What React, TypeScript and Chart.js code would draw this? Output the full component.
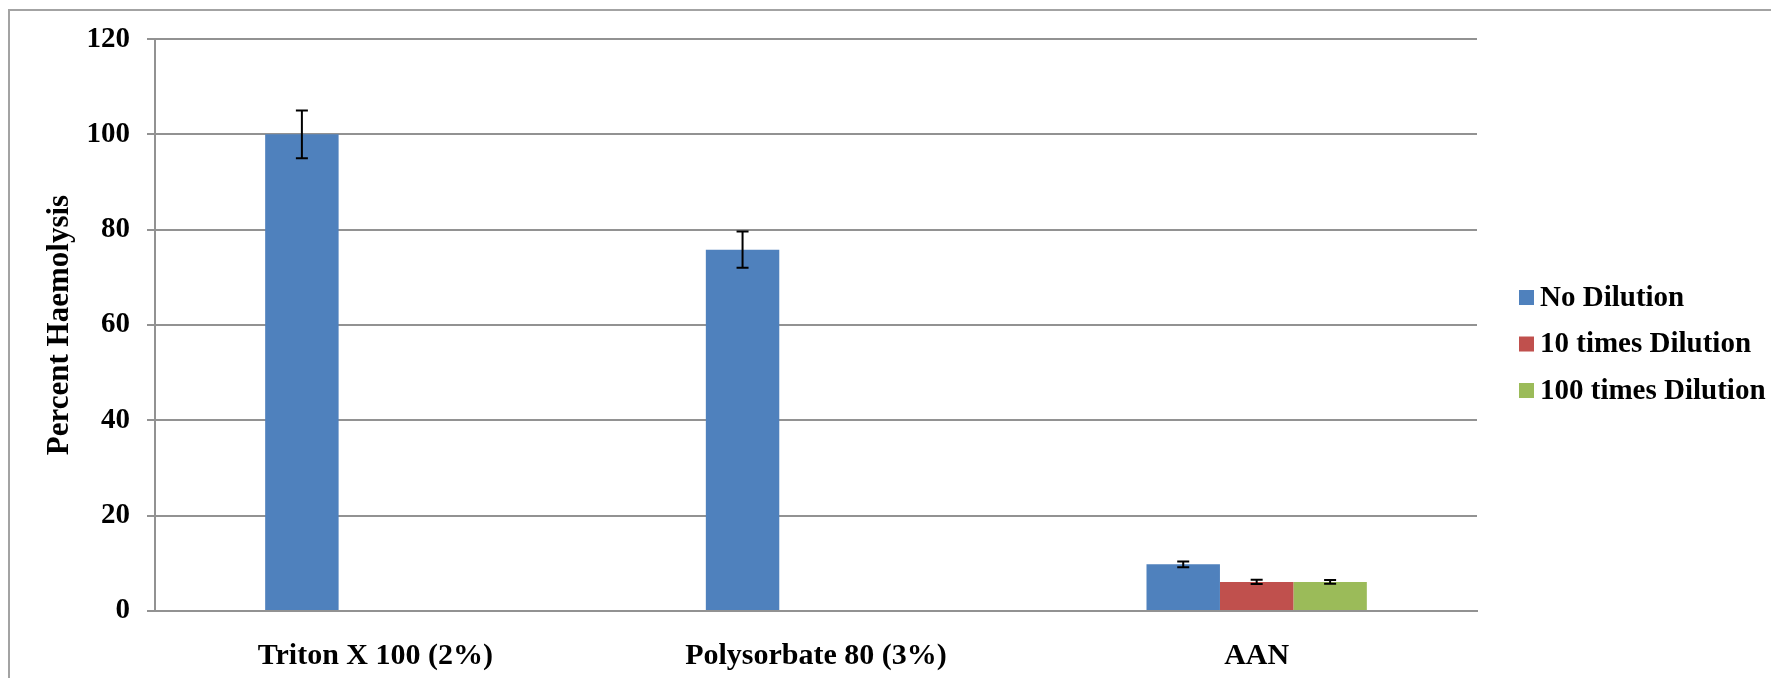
import React, { useEffect, useRef } from 'react';
import { Chart, registerables } from 'chart.js';

Chart.register(...registerables);

const categories = ['Triton X 100 (2%)', 'Polysorbate 80 (3%)', 'AAN'];
const seriesLabels = ['No Dilution', '10 times Dilution', '100 times Dilution'];
const noDilution = [100, 75.8, 9.8];
const tenTimesDilution = [null, null, 6.1];
const hundredTimesDilution = [null, null, 6.1];
const noDilutionError = [5, 3.8, 0.6];
const tenTimesError = [null, null, 0.45];
const hundredTimesError = [null, null, 0.4];
const yTicks = [0, 20, 40, 60, 80, 100, 120];
const seriesColors = ['#4F81BD', '#C0504D', '#9BBB59'];

const FONT = "'Liberation Serif', 'Times New Roman', serif";
const GRID = '#929292';

export default function App() {
  const ref = useRef<HTMLCanvasElement | null>(null);

  useEffect(() => {
    if (!ref.current) return;
    const errors = [noDilutionError, tenTimesError, hundredTimesError];

    const errorBars = {
      id: 'errorBars',
      afterDatasetsDraw(chart: any) {
        const ctx = chart.ctx;
        const y = chart.scales.y;
        ctx.save();
        ctx.strokeStyle = '#000';
        ctx.lineWidth = 2;
        chart.data.datasets.forEach((ds: any, i: number) => {
          const meta = chart.getDatasetMeta(i);
          meta.data.forEach((el: any, j: number) => {
            const v = ds.data[j];
            const e = errors[i][j];
            if (v == null || e == null) return;
            const x = el.x;
            const yt = y.getPixelForValue(v + e);
            const yb = y.getPixelForValue(v - e);
            const cw = 6;
            ctx.beginPath();
            ctx.moveTo(x, yt);
            ctx.lineTo(x, yb);
            ctx.moveTo(x - cw, yt);
            ctx.lineTo(x + cw, yt);
            ctx.moveTo(x - cw, yb);
            ctx.lineTo(x + cw, yb);
            ctx.stroke();
          });
        });
        ctx.restore();
      },
    };

    const customLegend = {
      id: 'customLegend',
      afterDraw(chart: any) {
        const ctx = chart.ctx;
        const area = chart.chartArea;
        const boxX = area.right + 42;
        const midY = (area.top + area.bottom) / 2 + 19;
        const step = 46.5;
        ctx.save();
        ctx.font = `bold 29px ${FONT}`;
        ctx.textBaseline = 'middle';
        ctx.textAlign = 'left';
        chart.data.datasets.forEach((ds: any, i: number) => {
          const cy = midY + (i - 1) * step;
          ctx.fillStyle = ds.backgroundColor;
          ctx.fillRect(boxX, cy - 7.5, 15, 15);
          ctx.fillStyle = '#000';
          ctx.fillText(ds.label, boxX + 21, cy + 1);
        });
        ctx.restore();
      },
    };

    const chart = new Chart(ref.current, {
      type: 'bar',
      data: {
        labels: categories,
        datasets: [
          { label: seriesLabels[0], data: noDilution, backgroundColor: seriesColors[0] },
          { label: seriesLabels[1], data: tenTimesDilution, backgroundColor: seriesColors[1] },
          { label: seriesLabels[2], data: hundredTimesDilution, backgroundColor: seriesColors[2] },
        ],
      },
      options: {
        animation: false,
        responsive: false,
        devicePixelRatio: 1,
        layout: { padding: { top: 0, right: 302, bottom: 0, left: 0 } },
        datasets: { bar: { categoryPercentage: 0.5, barPercentage: 1.0 } },
        plugins: {
          legend: { display: false },
          tooltip: { enabled: false },
        },
        scales: {
          x: {
            grid: { display: false, drawTicks: false },
            border: { display: true, color: GRID, width: 2 },
            ticks: {
              color: '#000',
              padding: 27,
              font: { family: FONT, size: 30, weight: 'bold' },
              maxRotation: 0,
            },
            afterFit(scale: any) {
              scale.height = 67;
            },
          },
          y: {
            min: yTicks[0],
            max: yTicks[yTicks.length - 1],
            afterBuildTicks(scale: any) {
              scale.ticks = yTicks.map((v) => ({ value: v }));
            },
            grid: { color: GRID, lineWidth: 2, drawTicks: true, tickLength: 8, tickColor: GRID },
            border: { display: true, color: GRID, width: 2 },
            ticks: {
              color: '#000',
              padding: 17,
              font: { family: FONT, size: 29, weight: 'bold', lineHeight: 0.76 },
            },
            title: {
              display: true,
              text: 'Percent Haemolysis',
              color: '#000',
              font: { family: FONT, size: 31, weight: 'bold' },
              padding: { top: 31, bottom: 0 },
            },
            afterFit(scale: any) {
              scale.width = 145;
            },
          },
        },
      },
      plugins: [errorBars, customLegend],
    } as any);

    return () => chart.destroy();
  }, []);

  return (
    <div
      style={{
        marginTop: 1,
        width: 1771,
        height: 669,
        boxSizing: 'border-box',
        borderTop: '2px solid #a3a3a3',
        borderLeft: '2px solid #a3a3a3',
        overflow: 'hidden',
        background: '#fff',
      }}
    >
      <canvas ref={ref} width={1769} height={667} style={{ display: 'block' }} />
    </div>
  );
}
